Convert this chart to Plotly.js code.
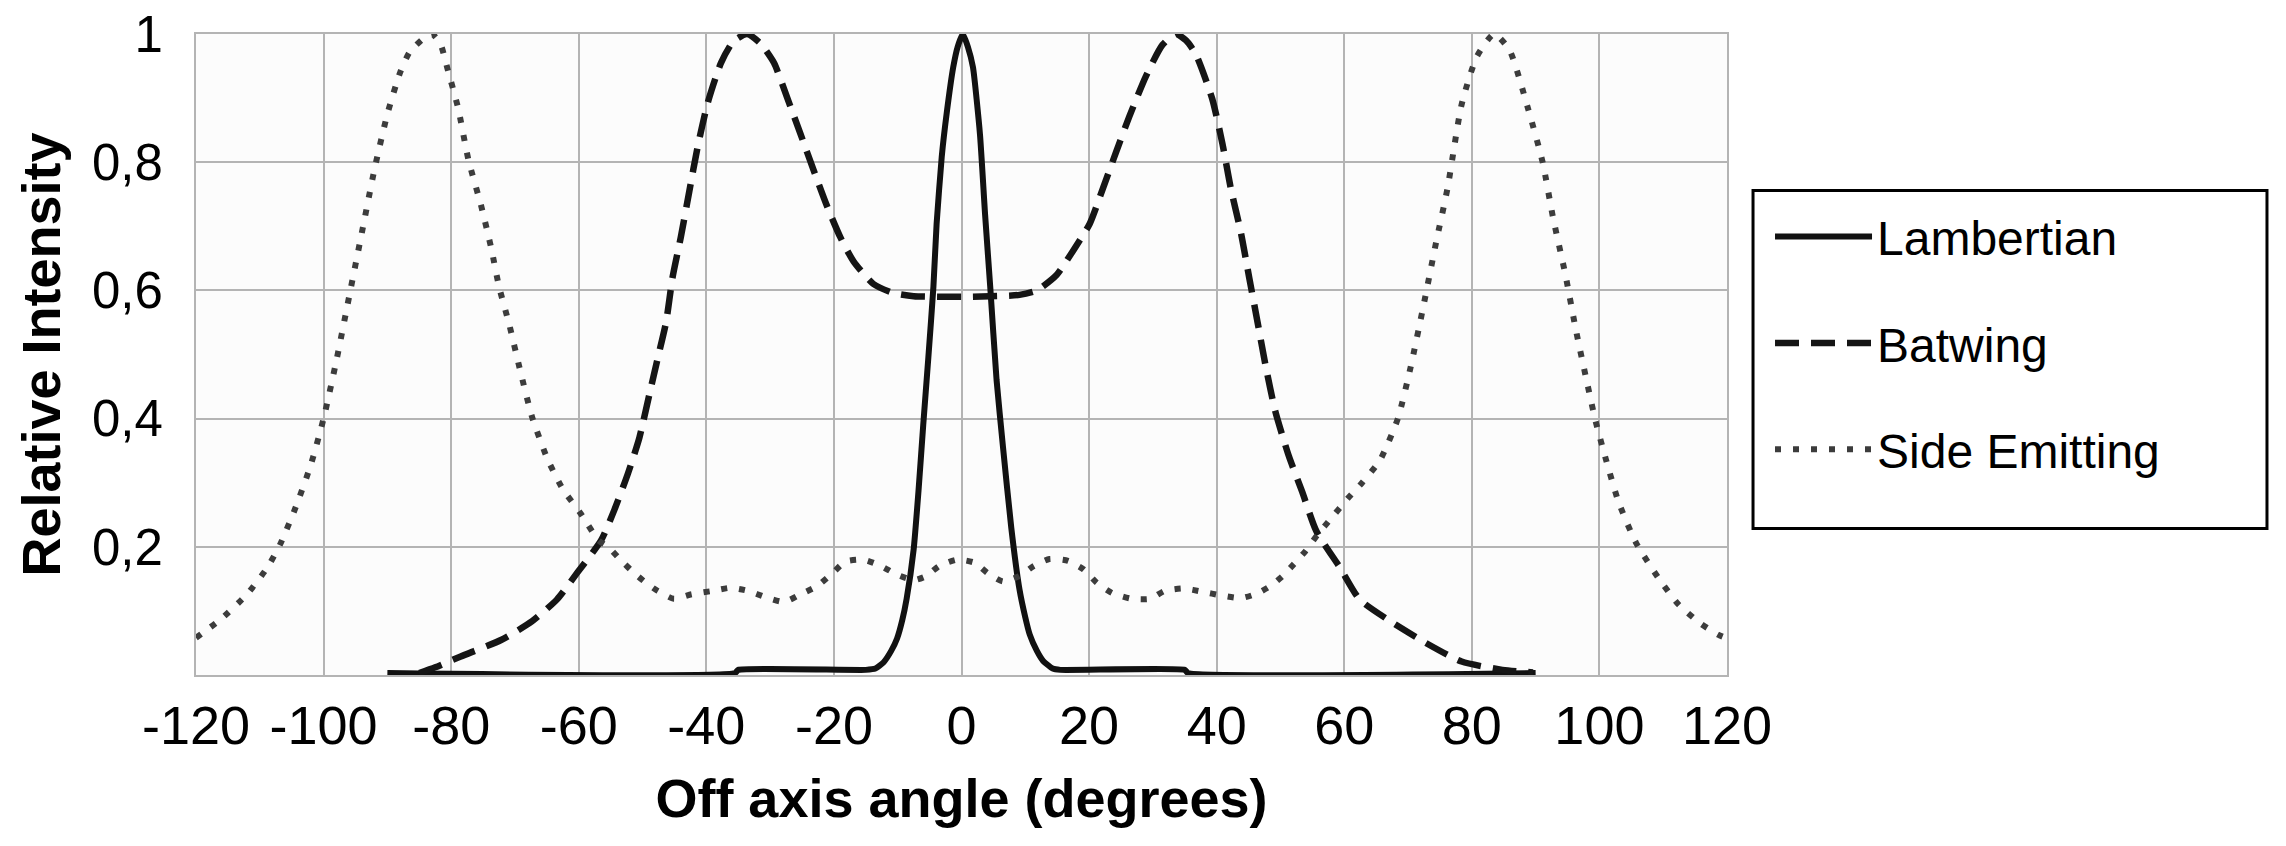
<!DOCTYPE html>
<html>
<head>
<meta charset="utf-8">
<script src="https://cdn.plot.ly/plotly-3.0.1.min.js"></script>
<style>
  body { margin: 0; background: #fff; }
  #graph { width: 2286px; height: 846px; }
</style>
</head>
<body>
<div id="graph"></div>
<script>
'use strict';

// angle (degrees) / relative intensity
var lambX = [-90, -35.5, -35, -15, -13.5, -12.2, -11, -10.1, -9.3, -8.6, -7.5, -6.75, -6.0, -5.2, -4.4,
  -3.9, -3.1, -2.3, -1.3, -0.6, 0.2, 1.0, 1.8, 2.9, 3.7, 4.5, 5.5, 6.5, 7.8, 9.1, 10.0, 10.7, 11.8,
  12.8, 14.3, 15.5, 35, 35.5, 90];
var lambY = [0.003, 0.003, 0.008, 0.008, 0.01, 0.02, 0.038, 0.057, 0.085, 0.119, 0.196, 0.286, 0.39, 0.495, 0.606,
  0.704, 0.808, 0.878, 0.948, 0.98, 1.0, 0.98, 0.948, 0.843, 0.718, 0.606, 0.46, 0.356, 0.23, 0.133, 0.09, 0.063, 0.038,
  0.022, 0.01, 0.008, 0.008, 0.003, 0.003];

var batX = [-85, -82.5, -78.5, -72.1, -67.3, -63.4, -60.2, -56.5, -54.4, -52.3, -50.5, -48.9, -47.6, -46.3,
  -45.3, -44.0, -42.7, -41.4, -39.8, -37.7, -35.8, -33.6, -31.5, -29.4, -27.3, -25.2, -23.2, -21.1, -19.0,
  -16.9, -13.8, -10.7, -7.5, 0, 9.1, 11.8, 14.9, 17.5, 20.1, 22.2, 24.2, 26.3, 28.9, 31.5, 33.6, 35.2,
  36.7, 39.3, 40.9, 42.2, 43.8, 45.1, 46.4, 47.7, 49.2, 51.3, 53.4, 55.6, 59.3, 62.4, 67.2, 72.8, 78.4,
  84.8, 89.6];
var batY = [0.003, 0.012, 0.029, 0.055, 0.084, 0.118, 0.16, 0.21, 0.258, 0.314, 0.37, 0.439, 0.495, 0.551,
  0.62, 0.683, 0.753, 0.822, 0.892, 0.955, 0.988, 1.0, 0.985, 0.955, 0.9, 0.843, 0.788, 0.732, 0.683,
  0.645, 0.61, 0.596, 0.591, 0.59, 0.593, 0.6, 0.624, 0.662, 0.704, 0.76, 0.815, 0.871, 0.934, 0.983, 1.0, 0.99,
  0.969, 0.899, 0.829, 0.76, 0.69, 0.62, 0.551, 0.481, 0.411, 0.342, 0.286, 0.225, 0.168, 0.118, 0.084, 0.05, 0.021,
  0.008, 0.004];

var sideX = [-120, -116, -112, -108.8, -106.8, -104.4, -102, -100, -98, -96, -94, -92, -90, -88, -86.5,
  -84.1, -83, -81.7, -80.5, -78.9, -77.3, -75.3, -73.7, -72.5, -70.9, -69.3, -67.3, -64.9, -62.5, -59.7,
  -56.9, -55.3, -53.3, -51.3, -49.5, -47.6, -45.1, -42.3, -39.1, -36.2, -33.4, -30.6, -27.8, -25.2, -22.6,
  -20.2, -18.2, -15.4, -12.6, -10.2, -7.5, -5.6, -3.5, -0.7, 2.1, 4.1, 6.5, 9.0, 11.3, 13.8, 16.7, 19.1,
  21.2, 23.6, 26.6, 29.6, 31.8, 34.8, 37.7, 40.8, 43.8, 46.3, 48.6, 50.3, 52.1, 53.9, 55.9, 58, 60.5,
  62.8, 65.6, 68.4, 70.4, 72.4, 74.4, 76.2, 78.4, 80.8, 83.5, 85.9, 88.8, 91.1, 92.7, 94.7, 96.3, 98.2,
  99.4, 101, 103, 105.7, 109.2, 112.4, 115.9, 118.6, 120];
var sideY = [0.058, 0.088, 0.126, 0.168, 0.204, 0.261, 0.328, 0.4, 0.49, 0.59, 0.69, 0.79, 0.875, 0.94, 0.972,
  0.995, 1.0, 0.985, 0.943, 0.884, 0.804, 0.732, 0.665, 0.606, 0.547, 0.48, 0.402, 0.337, 0.29, 0.252,
  0.21, 0.199, 0.178, 0.159, 0.144, 0.131, 0.119, 0.126, 0.131, 0.136, 0.131, 0.121, 0.114, 0.126, 0.139,
  0.159, 0.177, 0.18, 0.17, 0.157, 0.148, 0.154, 0.17, 0.18, 0.175, 0.159, 0.146, 0.154, 0.17, 0.181, 0.178, 0.165,
  0.144, 0.128, 0.119, 0.119, 0.131, 0.135, 0.13, 0.124, 0.12, 0.127, 0.14, 0.154, 0.173, 0.193, 0.22, 0.245, 0.275,
  0.3, 0.335, 0.4, 0.48, 0.575, 0.675, 0.76, 0.89, 0.965, 1.0, 0.975, 0.884, 0.8, 0.715, 0.623, 0.539, 0.45,
  0.396, 0.337, 0.27, 0.207, 0.152, 0.11, 0.08, 0.063, 0.057];

var xTicks = [-120, -100, -80, -60, -40, -20, 0, 20, 40, 60, 80, 100, 120];
var xLabels = ['-120', '-100', '-80', '-60', '-40', '-20', '0', '20', '40', '60', '80', '100', '120'];
var yTicks = [0.2, 0.4, 0.6, 0.8, 1];
var yLabels = ['0,2', '0,4', '0,6', '0,8', '1'];

var FONT = 'Liberation Sans, Arial, sans-serif';
var GRID = '#b4b4b4';

var lambertian = {
    x: lambX, y: lambY, name: 'Lambertian', legendgroup: 'a',
    type: 'scatter', mode: 'lines',
    line: {color: '#111', width: 6, shape: 'spline', smoothing: 0.5}
};
var batwing = {
    x: batX, y: batY, name: 'Batwing', legendgroup: 'b',
    type: 'scatter', mode: 'lines',
    line: {color: '#151515', width: 6.5, dash: '24px,12px', shape: 'spline', smoothing: 0.6}
};
var sideEmitting = {
    x: sideX, y: sideY, name: 'Side Emitting', legendgroup: 'c',
    type: 'scatter', mode: 'lines',
    line: {color: '#3c3c3c', width: 6, dash: '6px,12px', shape: 'spline', smoothing: 0.6}
};

var data = [lambertian, batwing, sideEmitting];

var layout = {
    width: 2286,
    height: 846,
    margin: {l: 196, r: 559, t: 34, b: 171},
    paper_bgcolor: '#fff',
    plot_bgcolor: '#fcfcfc',
    font: {family: FONT, color: '#000'},
    showlegend: true,
    legend: {
        x: 1.0281, xanchor: 'left',
        y: 0.5175, yanchor: 'middle',
        font: {family: FONT, size: 48, color: '#000'},
        bgcolor: 'rgba(0,0,0,0)',
        borderwidth: 0,
        itemwidth: 97,
        tracegroupgap: 41
    },
    xaxis: {
        range: [-120, 120],
        tickvals: xTicks,
        ticktext: xLabels,
        ticks: '',
        ticklabelstandoff: 2,
        tickfont: {family: FONT, size: 54, color: '#000'},
        showgrid: true, gridcolor: GRID, gridwidth: 2,
        zeroline: false,
        showline: true, mirror: true, linecolor: GRID, linewidth: 2,
        title: {text: 'Off axis angle (degrees)', standoff: 25,
                font: {family: FONT, size: 54, weight: 'bold', color: '#000'}}
    },
    yaxis: {
        range: [0, 1],
        tickvals: yTicks,
        ticktext: yLabels,
        ticks: '',
        ticklabelstandoff: 21,
        tickfont: {family: FONT, size: 51, color: '#000'},
        showgrid: true, gridcolor: GRID, gridwidth: 2,
        zeroline: false,
        showline: true, mirror: true, linecolor: GRID, linewidth: 2,
        title: {text: 'Relative Intensity', standoff: 14,
                font: {family: FONT, size: 54, weight: 'bold', color: '#000'}}
    },
    shapes: [{
        type: 'rect', xref: 'paper', yref: 'paper',
        x0: 1.017, x1: 1.3527, y0: 0.2286, y1: 0.7559,
        line: {color: '#000', width: 3}, fillcolor: 'rgba(0,0,0,0)'
    }]
};

Plotly.newPlot('graph', data, layout, {staticPlot: true});
</script>
</body>
</html>
